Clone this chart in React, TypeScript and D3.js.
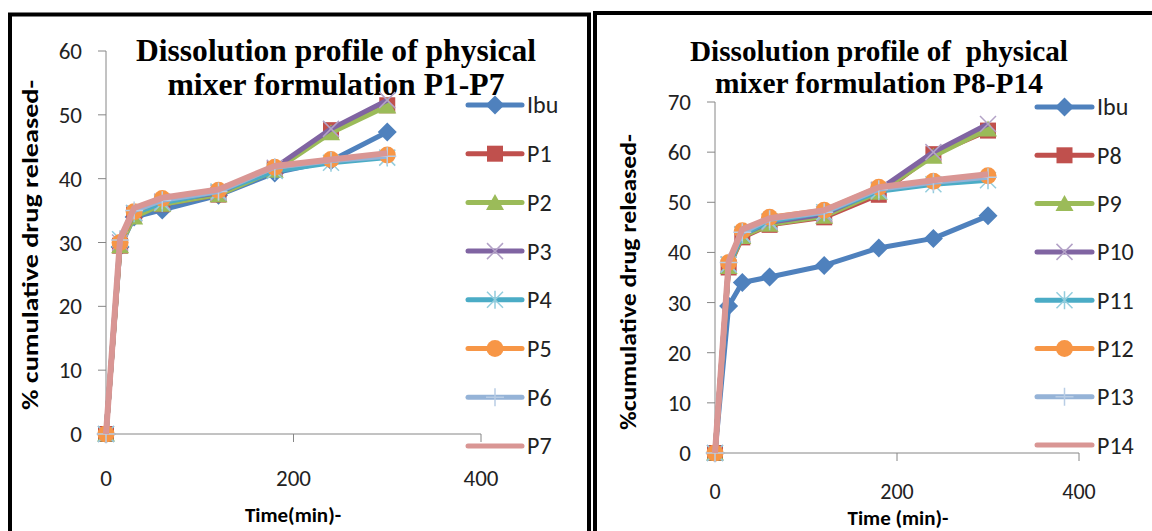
import React from 'react';
import * as d3 from 'd3';

// time points (min)
const TIME = [0, 15, 30, 60, 120, 180, 240, 300];

// left panel: P1-P7
const LEFT_NAMES = ['Ibu', 'P1', 'P2', 'P3', 'P4', 'P5', 'P6', 'P7'];
const IBU = [0, 29.3, 34, 35.1, 37.4, 40.9, 42.8, 47.3];
const P1 = [0, 29.5, 34.5, 36, 37.5, 41.5, 47.6, 51.5];
const P2 = [0, 29.5, 34, 36, 37.5, 41.3, 47.2, 51.4];
const P3 = [0, 30, 34.6, 36.4, 37.8, 41.7, 47.8, 52.3];
const P4 = [0, 30.5, 34.6, 36.2, 38, 41.2, 42.5, 43.3];
const P5 = [0, 30, 34.8, 36.9, 38.2, 41.8, 43, 43.7];
const P6 = [0, 30.4, 35, 36.6, 38, 41.8, 42.8, 43.5];
const P7 = [0, 30.6, 35.4, 37, 38.3, 42, 43, 44];

// right panel: P8-P14
const RIGHT_NAMES = ['Ibu', 'P8', 'P9', 'P10', 'P11', 'P12', 'P13', 'P14'];
const P8 = [0, 37, 43, 45.5, 47, 51.5, 59.6, 64.3];
const P9 = [0, 37.2, 43.2, 45.6, 47.2, 52, 59.2, 64.6];
const P10 = [0, 37.6, 43.6, 46, 47.6, 52.5, 60, 65.6];
const P11 = [0, 37.6, 43.6, 46.2, 48, 52.2, 53.6, 54.4];
const P12 = [0, 38, 44.3, 47, 48.4, 53, 54.2, 55.3];
const P13 = [0, 38, 44, 46.6, 48, 52.6, 54, 55];
const P14 = [0, 38.2, 44.6, 46.8, 48.4, 53, 54.4, 55.6];

const X_TICKS = [0, 200, 400];

const COLORS = ['#4F81BD', '#C0504D', '#9BBB59', '#8064A2', '#4BACC6', '#F79646', '#95B3D7', '#D99694'];
const MARK_STROKE = ['', '', '', '#B3A2C7', '#93CDDD', '', '#B9CDE5', ''];
const MARKERS = ['diamond', 'square', 'triangle', 'x', 'star', 'circle', 'plus', 'none'];

const SANS = 'Carlito, Lato, sans-serif';
const SERIF = '"Liberation Serif", "Times New Roman", serif';

function Marker({ type, cx, cy, i }) {
  const c = COLORS[i];
  const s = MARK_STROKE[i];
  const t = `translate(${cx},${cy})`;
  if (type === 'diamond') return <path transform={t} d="M0,-9.5L9.5,0L0,9.5L-9.5,0Z" fill={c} />;
  if (type === 'square') return <rect transform={t} x={-8} y={-8} width={16} height={16} fill={c} />;
  if (type === 'triangle') return <path transform={t} d="M0,-8.5L9,7.5L-9,7.5Z" fill={c} />;
  if (type === 'circle') return <circle transform={t} r={8.5} fill={c} />;
  if (type === 'x') return <path transform={t} d="M-8,-8L8,8M-8,8L8,-8" stroke={s} strokeWidth={1.5} fill="none" />;
  if (type === 'star') return <path transform={t} d="M-8,-8L8,8M-8,8L8,-8M0,-9L0,9" stroke={s} strokeWidth={1.5} fill="none" />;
  if (type === 'plus') return <path transform={t} d="M0,-9L0,9M-9,0L9,0" stroke={s} strokeWidth={1.5} fill="none" />;
  return null;
}

function Panel({ names, series, yMax, box, title, titleSize, titleLens, yTitle, yTitlePos, yTitleLen, xTitle, xTitlePos, tickGap, xTickSize, legend }) {
  const x = d3.scaleLinear().domain([0, 400]).range([box.left, box.right]);
  const y = d3.scaleLinear().domain([0, yMax]).range([box.bottom, box.top]);
  const line = d3.line().x((d, k) => x(TIME[k])).y(d => y(d));
  const yTicks = d3.range(0, yMax + 1, 10);

  return (
    <g>
      {/* title */}
      {title.map((t, k) => (
        <text key={k} x={title.cx} y={title.y[k]} textAnchor="middle" fontFamily={SERIF} fontWeight="bold"
          fontSize={titleSize} textLength={titleLens[k]} lengthAdjust="spacingAndGlyphs"
          style={{ whiteSpace: 'pre' }}>{t}</text>
      ))}
      {/* axes */}
      <line x1={box.left} x2={box.left} y1={box.top} y2={box.bottom} stroke="#868686" />
      <line x1={box.left} x2={box.right} y1={box.bottom} y2={box.bottom} stroke="#868686" />
      {yTicks.map(v => (
        <g key={v}>
          <line x1={box.left - 8} x2={box.left} y1={y(v)} y2={y(v)} stroke="#868686" />
          <text x={box.left - 24} y={y(v)} dy="0.35em" textAnchor="end" fontFamily={SANS} fontSize={23} fill="#222">{v}</text>
        </g>
      ))}
      {X_TICKS.map(v => (
        <g key={v}>
          <line x1={x(v)} x2={x(v)} y1={box.bottom} y2={box.bottom + 8} stroke="#868686" />
          <text x={x(v)} y={box.bottom + tickGap} dy="0.35em" textAnchor="middle" fontFamily={SANS} fontSize={xTickSize} fill="#222">{v}</text>
        </g>
      ))}
      <text transform={`translate(${yTitlePos[0]},${yTitlePos[1]}) rotate(-90)`} dy="0.35em" textAnchor="middle"
        fontFamily={SANS} fontWeight="bold" fontSize={23} textLength={yTitleLen} lengthAdjust="spacingAndGlyphs">{yTitle}</text>
      <text x={xTitlePos[0]} y={xTitlePos[1]} dy="0.35em" textAnchor="middle" fontFamily={SANS} fontWeight="bold" fontSize={21}>{xTitle}</text>
      {/* series */}
      {series.map((vals, i) => (
        <g key={i}>
          <path d={line(vals)} fill="none" stroke={COLORS[i]} strokeWidth={i === 7 ? 6 : 5} strokeLinejoin="round" />
          {vals.map((v, k) => <Marker key={k} type={MARKERS[i]} cx={x(TIME[k])} cy={y(v)} i={i} />)}
        </g>
      ))}
      {/* legend */}
      {names.map((n, i) => {
        const ly = legend.top + i * legend.step;
        const mx = (legend.x0 + legend.x1) / 2;
        return (
          <g key={n}>
            <line x1={legend.x0} x2={legend.x1} y1={ly} y2={ly} stroke={COLORS[i]} strokeWidth={5} strokeLinecap="round" />
            <Marker type={MARKERS[i]} cx={mx} cy={ly} i={i} />
            <text x={legend.x1 + 5} y={ly} dy="0.35em" fontFamily={SANS} fontSize={24} fill="#222">{n}</text>
          </g>
        );
      })}
    </g>
  );
}

export default function App() {
  const leftTitle = Object.assign(['Dissolution profile of physical', 'mixer formulation P1-P7'], { cx: 336, y: [61, 95] });
  const rightTitle = Object.assign(['Dissolution profile of  physical', 'mixer formulation P8-P14'], { cx: 879, y: [61, 93] });
  return (
    <svg width={1152} height={531} style={{ position: 'absolute', left: 0, top: 0, background: '#fff' }}>
      <rect x={10} y={14.5} width={579} height={540} fill="#fff" stroke="#000" strokeWidth={4} />
      <rect x={595} y={13} width={580} height={540} fill="#fff" stroke="#000" strokeWidth={4} />
      <Panel
        names={LEFT_NAMES}
        series={[IBU, P1, P2, P3, P4, P5, P6, P7]}
        yMax={60}
        box={{ left: 106, right: 481, top: 51, bottom: 434 }}
        title={leftTitle}
        titleSize={31}
        titleLens={[400, 337]}
        yTitle="% cumulative drug released-"
        yTitlePos={[30, 245]}
        yTitleLen={330}
        xTitle="Time(min)-"
        xTitlePos={[293, 515]}
        tickGap={44}
        xTickSize={23}
        legend={{ x0: 468, x1: 522, top: 105, step: 48.7 }}
      />
      <Panel
        names={RIGHT_NAMES}
        series={[IBU, P8, P9, P10, P11, P12, P13, P14]}
        yMax={70}
        box={{ left: 715, right: 1079, top: 102, bottom: 453 }}
        title={rightTitle}
        titleSize={29}
        titleLens={[378, 328]}
        yTitle="%cumulative drug released-"
        yTitlePos={[628, 282]}
        yTitleLen={296}
        xTitle="Time (min)-"
        xTitlePos={[898, 518]}
        tickGap={38}
        xTickSize={22}
        legend={{ x0: 1037, x1: 1092, top: 107, step: 48.3 }}
      />
    </svg>
  );
}
